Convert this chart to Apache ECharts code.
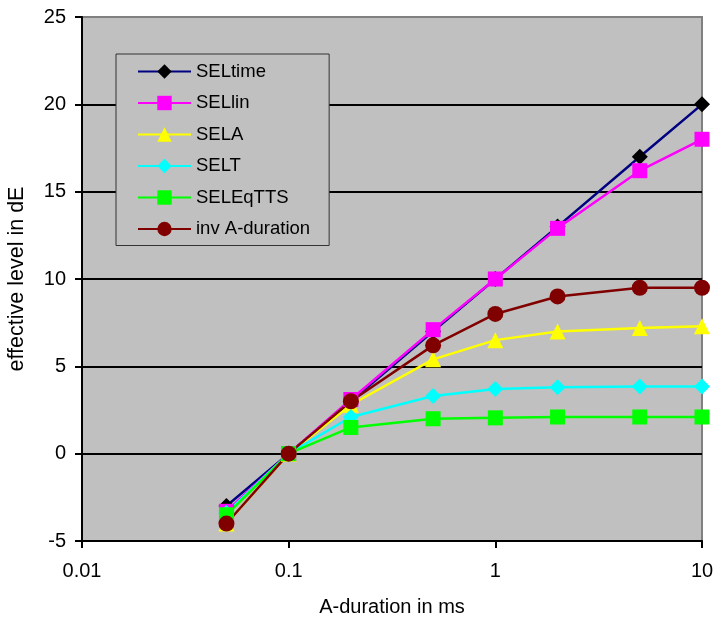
<!DOCTYPE html>
<html>
<head>
<meta charset="utf-8">
<script src="https://cdn.jsdelivr.net/npm/echarts@6/dist/echarts.min.js"></script>
<style>
  html, body { margin: 0; padding: 0; background: #ffffff; }
  #chart { width: 715px; height: 621px; }
</style>
</head>
<body>
<div id="chart"></div>
<script>
// A-duration values (ms) shared by every series
const durations = [0.05, 0.1, 0.2, 0.5, 1, 2, 5, 10];

// Effective level (dB) for each metric
const selTime     = [-3.0, 0, 3.0, 7.0, 10.0, 13.0, 17.0, 20.0];
const selLin      = [-3.3, 0, 3.1, 7.1, 10.0, 12.9, 16.2, 18.0];
const selA        = [-4.0, 0, 2.8, 5.4, 6.5, 7.0, 7.2, 7.3];
const selT        = [-3.4, 0, 2.1, 3.3, 3.7, 3.8, 3.85, 3.85];
const selEqTTS    = [-3.5, 0, 1.5, 2.0, 2.05, 2.1, 2.1, 2.1];
const invDuration = [-4.0, 0, 3.0, 6.2, 8.0, 9.0, 9.5, 9.5];

const xTicks = [0.01, 0.1, 1, 10];
const yTicks = [-5, 0, 5, 10, 15, 20, 25];

const FONT = '"Liberation Sans", Arial, sans-serif';

function pairs(values) {
  return durations.map((d, i) => [d, values[i]]);
}

function lineSeries(name, values, lineColor, markerColor, symbol, size) {
  return {
    name: name,
    type: 'line',
    data: pairs(values),
    symbol: symbol,
    symbolSize: size,
    showAllSymbol: true,
    lineStyle: { color: lineColor, width: 2.5 },
    itemStyle: { color: markerColor, borderWidth: 0 },
    emphasis: { disabled: true },
    animation: false
  };
}

const chart = echarts.init(document.getElementById('chart'), null, { renderer: 'canvas' });

chart.setOption({
  animation: false,
  backgroundColor: '#ffffff',
  textStyle: { fontFamily: FONT },
  grid: {
    left: 82, right: 13, top: 17, bottom: 80,
    outerBoundsMode: 'none',
    containLabel: false,
    show: true,
    backgroundColor: '#c0c0c0',
    borderColor: '#808080',
    borderWidth: 2
  },
  legend: {
    orient: 'vertical',
    left: 116,
    top: 54,
    padding: [8, 19, 7, 21],
    itemWidth: 53,
    itemHeight: 18,
    itemGap: 12.5,
    backgroundColor: '#c0c0c0',
    borderColor: '#333333',
    borderWidth: 1,
    textStyle: { fontFamily: FONT, fontSize: 18.5, color: '#000000' },
    data: ['SELtime', 'SELlin', 'SELA', 'SELT', 'SELEqTTS', 'inv A-duration']
  },
  xAxis: {
    type: 'log',
    logBase: 10,
    min: xTicks[0],
    max: xTicks[xTicks.length - 1],
    name: 'A-duration in ms',
    nameLocation: 'middle',
    nameGap: 56,
    nameTextStyle: { fontFamily: FONT, fontSize: 20, color: '#000000' },
    axisLine: { show: true, onZero: false, lineStyle: { color: '#000000', width: 2 } },
    axisTick: { show: true, inside: false, length: 7, lineStyle: { color: '#000000', width: 2 } },
    minorTick: { show: false },
    splitLine: { show: false },
    axisLabel: {
      fontFamily: FONT, fontSize: 20, color: '#000000', margin: 20,
      formatter: v => String(Number(Number(v).toPrecision(6)))
    }
  },
  yAxis: {
    type: 'value',
    min: yTicks[0],
    max: yTicks[yTicks.length - 1],
    interval: 5,
    name: 'effective level in dE',
    nameLocation: 'middle',
    nameGap: 54,
    nameRotate: 90,
    nameTextStyle: { fontFamily: FONT, fontSize: 21.5, color: '#000000' },
    axisLine: { show: true, onZero: false, lineStyle: { color: '#000000', width: 2 } },
    axisTick: { show: true, inside: false, length: 7, lineStyle: { color: '#000000', width: 2 } },
    splitLine: {
      show: true,
      showMinLine: false,
      showMaxLine: false,
      lineStyle: { color: '#000000', width: 2 }
    },
    axisLabel: { fontFamily: FONT, fontSize: 20, color: '#000000', margin: 16 }
  },
  series: [
    lineSeries('SELtime', selTime, '#000080', '#000000', 'diamond', 16),
    lineSeries('SELlin', selLin, '#ff00ff', '#ff00ff', 'rect', 15),
    lineSeries('SELA', selA, '#ffff00', '#ffff00', 'triangle', 16),
    lineSeries('SELT', selT, '#00ffff', '#00ffff', 'diamond', 16),
    lineSeries('SELEqTTS', selEqTTS, '#00ff00', '#00ff00', 'rect', 15),
    lineSeries('inv A-duration', invDuration, '#800000', '#800000', 'circle', 16)
  ]
});
</script>
</body>
</html>
